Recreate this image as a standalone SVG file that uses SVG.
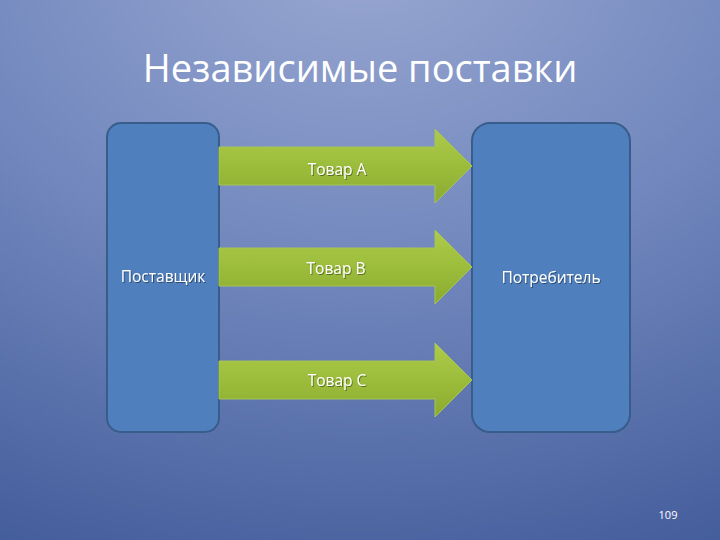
<svg xmlns="http://www.w3.org/2000/svg" width="720" height="540" viewBox="0 0 720 540">
<defs>
<radialGradient id="bg" cx="0.5" cy="-0.1" r="1.2" fx="0.5" fy="-0.1">
<stop offset="0" stop-color="#9aa8d2"/>
<stop offset="0.5" stop-color="#7187bd"/>
<stop offset="1" stop-color="#455e9c"/>
</radialGradient>
<linearGradient id="arr" x1="0" y1="0" x2="0" y2="1">
<stop offset="0" stop-color="#aeca4c"/>
<stop offset="0.5" stop-color="#9cbd3b"/>
<stop offset="1" stop-color="#8aaa30"/>
</linearGradient>
<filter id="sh" x="-10%" y="-10%" width="130%" height="130%">
<feDropShadow dx="1" dy="1" stdDeviation="0.6" flood-color="#000" flood-opacity="0.4"/>
</filter>
</defs>
<style>
.box{fill:#4f7fbd;stroke:#385d8a;stroke-width:2}
.arrow{fill:url(#arr);stroke:#a6c455;stroke-width:1}
.t{font-family:"Open Sans","Liberation Sans",sans-serif;fill:#ffffff;text-anchor:middle}
.lbl{font-size:15.5px;filter:url(#sh)}
</style>
<rect width="720" height="540" fill="url(#bg)"/>
<text class="t" x="360" y="82" font-size="38" fill="#f2f4fa">Независимые поставки</text>
<g id="supplier">
<rect class="box" x="107" y="123" width="112" height="309" rx="14"/>
<text class="t lbl" x="163" y="282">Поставщик</text>
</g>
<g id="consumer">
<rect class="box" x="472" y="123" width="158" height="309" rx="18"/>
<text class="t lbl" x="551" y="283">Потребитель</text>
</g>
<g id="connectors">
<g id="arrowA">
<polygon class="arrow" points="219,147 435,147 435,129 472,166 435,203 435,185 219,185"/>
<text class="t lbl" x="337" y="175">Товар A</text>
</g>
<g id="arrowB">
<polygon class="arrow" points="219,248 435,248 435,230 472,267 435,304 435,286 219,286"/>
<text class="t lbl" x="336" y="274">Товар B</text>
</g>
<g id="arrowC">
<polygon class="arrow" points="219,361 435,361 435,343 472,380 435,417 435,399 219,399"/>
<text class="t lbl" x="337" y="386">Товар C</text>
</g>
</g>
<text class="t" x="668" y="519" font-size="11">109</text>
</svg>
